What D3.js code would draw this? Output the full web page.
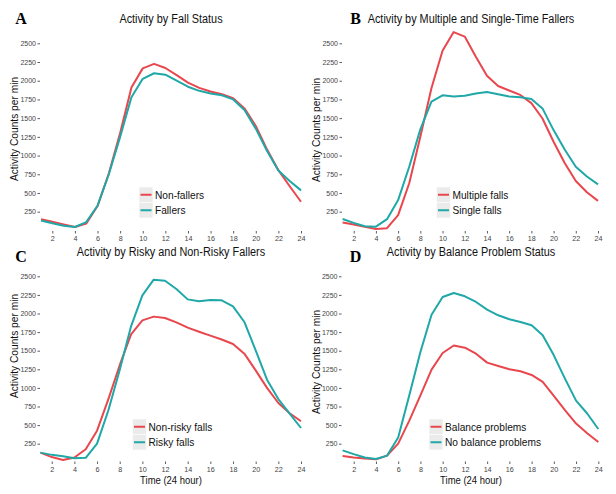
<!DOCTYPE html>
<html><head><meta charset="utf-8">
<script src="https://cdn.jsdelivr.net/npm/d3@7"></script>
<style>
body{margin:0;background:#fff}
svg{display:block}
</style></head>
<body><svg id="chart" width="616" height="494"></svg>
<script>
// ---- data ----
const hours = [1,2,3,4,5,6,7,8,9,10,11,12,13,14,15,16,17,18,19,20,21,22,23,24];
const xTicks = [2,4,6,8,10,12,14,16,18,20,22,24];
const yTicks = [250,500,750,1000,1250,1500,1750,2000,2250,2500];

const nonFallers = [150,115,80,45,90,325,760,1300,1910,2165,2225,2170,2075,1975,1905,1855,1820,1765,1630,1395,1080,805,590,383];
const fallers    = [132,95,62,45,110,330,750,1250,1780,2025,2100,2080,2000,1920,1865,1830,1805,1750,1610,1360,1060,800,660,535];

const multipleFalls = [105,80,50,20,30,205,630,1250,1900,2400,2650,2590,2320,2065,1930,1870,1810,1700,1495,1185,900,660,510,395];
const singleFalls   = [152,100,55,50,150,405,850,1350,1720,1805,1790,1800,1830,1850,1820,1790,1780,1755,1630,1340,1080,850,720,615];

const nonRiskyFalls = [130,70,30,65,175,425,850,1305,1720,1908,1958,1940,1880,1810,1755,1702,1650,1590,1460,1236,1000,797,660,551];
const riskyFalls    = [130,100,80,55,60,251,700,1240,1828,2244,2455,2440,2330,2190,2165,2180,2177,2095,1886,1505,1110,850,654,461];

const balanceProblems   = [85,65,50,40,90,251,560,900,1245,1469,1570,1541,1460,1340,1295,1250,1223,1174,1080,892,700,520,390,273];
const noBalanceProblems = [161,110,65,45,90,332,900,1483,1984,2222,2276,2231,2155,2052,1976,1922,1886,1841,1707,1438,1125,829,656,448];

const letters = ["A","B","C","D"];
const titles = ["Activity by Fall Status","Activity by Multiple and Single-Time Fallers","Activity by Risky and Non-Risky Fallers","Activity by Balance Problem Status"];
const legendNames = [["Non-fallers","Fallers"],["Multiple falls","Single falls"],["Non-risky falls","Risky falls"],["Balance problems","No balance problems"]];
const seriesData = [[nonFallers,fallers],[multipleFalls,singleFalls],[nonRiskyFalls,riskyFalls],[balanceProblems,noBalanceProblems]];
const yTitle = "Activity Counts per min";
const xTitle = "Time (24 hour)";

// ---- layout (styles / positions) ----
const SANS = '"Liberation Sans",Arial,Helvetica,sans-serif';
const SERIF = '"Liberation Serif","Times New Roman",serif';
const colors = ["#E8474D","#1FA8A7"];
const layout = [
  {x1:41,   x24:301,   y0:230.4, y25:43.3,  left:40,    axisY:231,   letter:[21,23.5],  title:[171,22.5], ytitle:[18,129],  legend:[139,187],   xtitle:false},
  {x1:342.6,x24:598,   y0:230.4, y25:43.3,  left:342,   axisY:231,   letter:[355.5,23.5],title:[471,22.5], ytitle:[319.5,130],legend:[436.5,187], xtitle:false},
  {x1:40.4, x24:301,   y0:462.3, y25:276.3, left:40,    axisY:461.5, letter:[21,262],   title:[171,256.3],ytitle:[18,346], legend:[132.5,419], xtitle:[171,483.5]},
  {x1:342.6,x24:598.3, y0:462.3, y25:276.3, left:341.5, axisY:461.5, letter:[355.5,262],title:[471,256.3],ytitle:[319.5,362],legend:[429,419],  xtitle:[471,483.5]}
];

const svg = d3.select("#chart");
function squeeze(sel, f){
  sel.each(function(){
    const w = this.getComputedTextLength();
    d3.select(this).attr("textLength", w*f).attr("lengthAdjust","spacingAndGlyphs");
  });
  return sel;
}

layout.forEach((L, i) => {
  const g = svg.append("g").style("font-family", SANS);
  const x = d3.scaleLinear().domain([1,24]).range([L.x1, L.x24]);
  const y = d3.scaleLinear().domain([0,2500]).range([L.y0, L.y25]);

  // x axis
  const xa = g.append("g").attr("transform",`translate(0,${L.axisY})`)
    .call(d3.axisBottom(x).tickValues(xTicks).tickSize(2.5).tickPadding(2.5).tickFormat(d3.format("d")));
  xa.select(".domain").remove();
  xa.selectAll("line").attr("stroke","#333").attr("stroke-width",0.8);
  xa.selectAll("text").attr("fill","#444").style("font-size","7.2px").style("font-family",SANS);

  // y axis
  const ya = g.append("g").attr("transform",`translate(${L.left},0)`)
    .call(d3.axisLeft(y).tickValues(yTicks).tickSize(2.5).tickPadding(1.5).tickFormat(d3.format("d")));
  ya.select(".domain").remove();
  ya.selectAll("line").attr("stroke","#333").attr("stroke-width",0.8);
  ya.selectAll("text").attr("fill","#444").style("font-size","7px").style("font-family",SANS);

  // lines
  const line = d3.line().x((d,j)=>x(hours[j])).y(d=>y(d));
  seriesData[i].forEach((s, k) => {
    g.append("path").datum(s).attr("d", line).attr("fill","none")
      .attr("stroke", colors[k]).attr("stroke-width", 2).attr("stroke-linejoin","round");
  });

  // legend
  const [lx, ly] = L.legend;
  const keyH = 15.5;
  legendNames[i].forEach((nm, k) => {
    g.append("rect").attr("x", lx).attr("y", ly + k*keyH).attr("width", 14).attr("height", keyH)
      .attr("fill","#EBEBEB").attr("stroke","#fff").attr("stroke-width",0.6);
    g.append("line").attr("x1", lx+1.5).attr("x2", lx+12.5)
      .attr("y1", ly + k*keyH + keyH/2).attr("y2", ly + k*keyH + keyH/2)
      .attr("stroke", colors[k]).attr("stroke-width", 2);
    squeeze(g.append("text").attr("x", lx+16).attr("y", ly + k*keyH + keyH/2 + 4)
      .style("font-size","11.3px").attr("fill","#111").text(nm), 0.9);
  });

  // titles
  squeeze(g.append("text").attr("x", L.title[0]).attr("y", L.title[1]).attr("text-anchor","middle")
    .style("font-size","12px").attr("fill","#111").text(titles[i]), 0.905);
  g.append("text").attr("x", L.letter[0]).attr("y", L.letter[1]).attr("text-anchor","middle")
    .style("font-family", SERIF).style("font-weight","bold")
    .style("font-size","16px").attr("fill","#000").text(letters[i]);

  // y title
  g.append("text").attr("transform",`translate(${L.ytitle[0]},${L.ytitle[1]}) rotate(-90)`)
    .attr("text-anchor","middle").style("font-size","10.2px").attr("fill","#111").text(yTitle);

  if (L.xtitle) {
    squeeze(g.append("text").attr("x", L.xtitle[0]).attr("y", L.xtitle[1]).attr("text-anchor","middle")
      .style("font-size","10.3px").attr("fill","#111").text(xTitle), 0.92);
  }
});
</script>
</body></html>
